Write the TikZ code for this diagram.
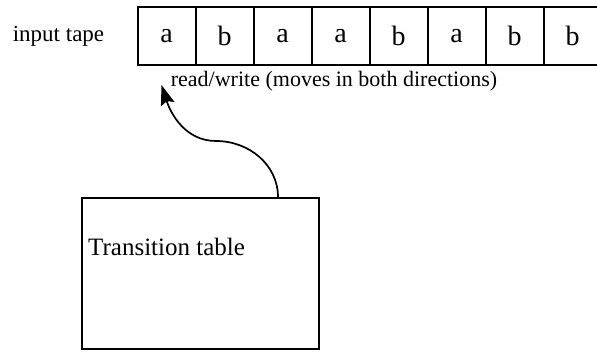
\documentclass[tikz,border=0pt]{standalone}
\usepackage{fontspec}
\setmainfont{Liberation Serif}
\usetikzlibrary{arrows.meta}
\begin{document}
\begin{tikzpicture}[x=1pt,y=-1pt,
  cell/.style={draw,line width=2pt,minimum width=58pt,minimum height=58pt,inner sep=0pt,font=\fontsize{28}{32}\selectfont},
  lbl/.style={inner sep=0pt,font=\fontsize{22}{26}\selectfont},
  tbox/.style={draw,line width=1.7pt,minimum width=237pt,minimum height=151pt,inner sep=0pt},
  conn/.style={line width=1.7pt,-{Stealth[length=20pt,width=14pt,inset=3pt]}}]
\useasboundingbox (0,0) rectangle (597,351);
\node[cell] (c1) at (166.5,36) {a};
\node[cell] (c2) at (224.5,36) {b};
\node[cell] (c3) at (282.5,36) {a};
\node[cell] (c4) at (340.5,36) {a};
\node[cell] (c5) at (398.5,36) {b};
\node[cell] (c6) at (456.5,36) {a};
\node[cell] (c7) at (514.5,36) {b};
\node[cell] (c8) at (572.5,36) {b};
\node[lbl,font=\fontsize{23}{27}\selectfont] (it) at (58.5,36) {input tape};
\node[lbl] (rw) at (334,81) {read/write (moves in both directions)};
\node[tbox] (tt) at (200.5,273.5) {};
\node[lbl,anchor=west,font=\fontsize{25}{29}\selectfont] (ttl) at (88,247) {Transition table};
\coordinate (tip) at (161.5,85);
\coordinate (mid) at (216,141);
\coordinate (start) at ([xshift=77.5pt]tt.north);
\draw[conn] (start) to[out=90,in=0] (mid) to[out=180,in=-72] (tip);
\end{tikzpicture}
\end{document}
